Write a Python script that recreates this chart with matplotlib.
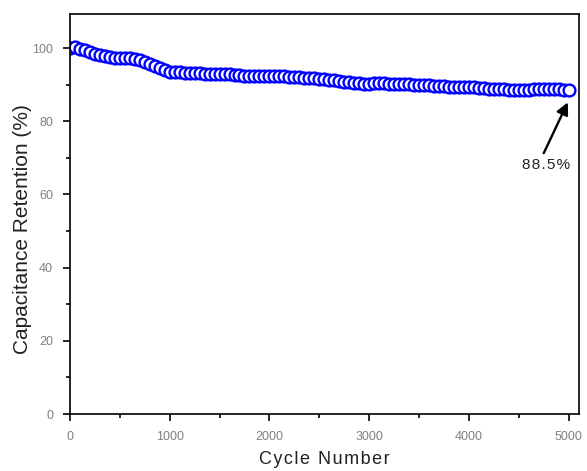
import numpy as np
import matplotlib.pyplot as plt
from matplotlib.ticker import MultipleLocator

plt.rcParams['font.family'] = ['Liberation Sans', 'DejaVu Sans']

# dados (a cada 50 ciclos)
cycles = np.arange(0, 5001, 50)
retention = [
    100.0, 100.2, 99.8, 99.5, 99.0, 98.5, 98.2, 97.8, 97.6, 97.4,
    97.3, 97.2, 97.2, 97.0, 96.7, 96.2, 95.8, 95.2, 94.5, 93.9,
    93.6, 93.5, 93.4, 93.3, 93.2, 93.2, 93.1, 93.0, 92.9, 92.9,
    92.9, 92.8, 92.8, 92.7, 92.6, 92.4, 92.4, 92.5, 92.5, 92.5,
    92.4, 92.4, 92.4, 92.3, 92.2, 92.1, 92.0, 91.9, 91.8, 91.8,
    91.7, 91.6, 91.4, 91.2, 91.0, 90.8, 90.7, 90.5, 90.4, 90.3,
    90.3, 90.4, 90.4, 90.4, 90.3, 90.3, 90.2, 90.2, 90.1, 90.0,
    90.0, 89.9, 89.8, 89.7, 89.7, 89.6, 89.5, 89.4, 89.4, 89.4,
    89.4, 89.3, 89.2, 89.0, 88.9, 88.8, 88.8, 88.7, 88.6, 88.5,
    88.5, 88.6, 88.6, 88.7, 88.7, 88.8, 88.8, 88.8, 88.7, 88.6,
    88.5,
]
final_label = "88.5%"

fig = plt.figure(figsize=(5.87, 4.71), dpi=100)
ax = fig.add_axes([0.119, 0.121, 0.867, 0.849])

ax.plot(cycles, retention, linestyle='none', marker='o', markersize=8.5,
        markerfacecolor='white', markeredgecolor='#0000ff',
        markeredgewidth=1.7)

ax.set_xlim(0, 5100)
ax.set_ylim(0, 109.3)

ax.xaxis.set_major_locator(MultipleLocator(1000))
ax.xaxis.set_minor_locator(MultipleLocator(500))
ax.yaxis.set_major_locator(MultipleLocator(20))
ax.yaxis.set_minor_locator(MultipleLocator(10))

ax.tick_params(which='both', direction='out', colors='black',
               labelcolor='#808080', labelsize=9, width=1.2, pad=7)
ax.tick_params(which='major', length=5)
ax.tick_params(which='minor', length=3)

for s in ax.spines.values():
    s.set_linewidth(1.2)

# espacamento entre letras como no original
hs = "\u200a"
xlab = hs.join("Cycle Number")
ax.set_xlabel(xlab, fontsize=13, color='#222222', labelpad=6)
ax.set_ylabel("Capacitance Retention (%)", fontsize=15, color='#222222',
              labelpad=0)
ax.yaxis.label.set_y(0.4625)

# seta + texto do valor final
ax.annotate("", xy=(4990, 85.2), xytext=(4749, 71.3),
            arrowprops=dict(arrowstyle='-|>', color='black', lw=1.7,
                            mutation_scale=18, shrinkA=0, shrinkB=0))
ax.text(4770, 68, hs.join(final_label), ha='center', va='center',
        fontsize=11, color='#222222')

plt.savefig("out.png", dpi=100)
